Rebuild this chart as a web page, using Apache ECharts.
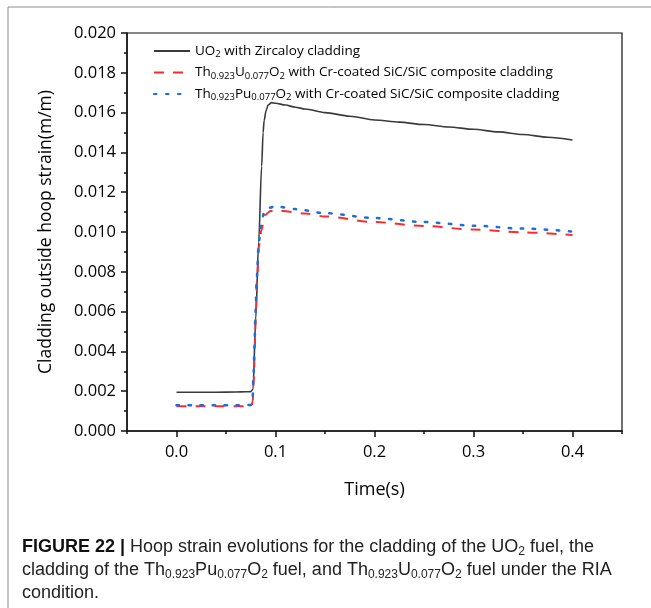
<!DOCTYPE html>
<html>
<head>
<meta charset="utf-8">
<script src="https://cdn.jsdelivr.net/npm/echarts@6/dist/echarts.min.js"></script>
<style>
  html, body { margin: 0; padding: 0; background: #ffffff; }
  #chart { width: 651px; height: 608px; }
</style>
</head>
<body>
<div id="chart"></div>
<script>
// Hoop strain of the cladding outer surface during an RIA pulse
const uo2Time = [0, 0.02, 0.04, 0.06, 0.07, 0.075, 0.0773, 0.080, 0.083, 0.086, 0.0875, 0.0885, 0.0905, 0.0925, 0.096, 0.10, 0.11, 0.12, 0.13, 0.15, 0.175, 0.2, 0.225, 0.25, 0.275, 0.3, 0.325, 0.35, 0.375, 0.4];
const uo2Strain = [0.00195, 0.00195, 0.00195, 0.00196, 0.00197, 0.00198, 0.0021, 0.0056, 0.0095, 0.0133, 0.0150, 0.0156, 0.0161, 0.01638, 0.0165, 0.01647, 0.01638, 0.01627, 0.01618, 0.01600, 0.01582, 0.01563, 0.01552, 0.01540, 0.01528, 0.01516, 0.01503, 0.0149, 0.01476, 0.01462];

const thuTime = [0, 0.02, 0.04, 0.06, 0.07, 0.0757, 0.077, 0.078, 0.0791, 0.0801, 0.0814, 0.0834, 0.0858, 0.0892, 0.095, 0.104, 0.13, 0.15, 0.2, 0.25, 0.3, 0.35, 0.4];
const thuStrain = [0.00125, 0.00125, 0.00125, 0.00125, 0.00125, 0.00126, 0.0015, 0.0025, 0.0042, 0.0059, 0.0076, 0.0093, 0.0101, 0.01085, 0.01105, 0.01107, 0.01093, 0.01078, 0.0105, 0.0103, 0.01012, 0.00998, 0.00985];

const thpuTime = [0, 0.02, 0.04, 0.06, 0.07, 0.0755, 0.0768, 0.0777, 0.0788, 0.0798, 0.0811, 0.0830, 0.0852, 0.0885, 0.0942, 0.098, 0.104, 0.12, 0.15, 0.2, 0.25, 0.3, 0.35, 0.4];
const thpuStrain = [0.0013, 0.0013, 0.0013, 0.0013, 0.0013, 0.00131, 0.0016, 0.0026, 0.0043, 0.0060, 0.0077, 0.0094, 0.0103, 0.0110, 0.01122, 0.01127, 0.01126, 0.01115, 0.01095, 0.0107, 0.0105, 0.01032, 0.01017, 0.01002];

const xMajorTicks = [0, 0.1, 0.2, 0.3, 0.4];
const xMinorTicks = [-0.05, 0.05, 0.15, 0.25, 0.35, 0.45];
const yMin = 0, yMax = 0.02, yStep = 0.002;

const seriesNames = [
  'UO2 with Zircaloy cladding',
  'Th0.923U0.077O2 with Cr-coated SiC/SiC composite cladding',
  'Th0.923Pu0.077O2 with Cr-coated SiC/SiC composite cladding'
];
const seriesColors = ['#3a3a3a', '#ff2b2b', '#1a6fe0'];
// Legend entries with subscripts, as rich-text strings
const legendRich = {
  'UO2 with Zircaloy cladding': '{n|UO}{s|2}{n| with Zircaloy cladding}',
  'Th0.923U0.077O2 with Cr-coated SiC/SiC composite cladding': '{n|Th}{s|0.923}{n|U}{s|0.077}{n|O}{s|2}{n| with Cr-coated SiC/SiC composite cladding}',
  'Th0.923Pu0.077O2 with Cr-coated SiC/SiC composite cladding': '{n|Th}{s|0.923}{n|Pu}{s|0.077}{n|O}{s|2}{n| with Cr-coated SiC/SiC composite cladding}'
};

const zip = (xs, ys) => xs.map((x, i) => [x, ys[i]]);
const FONT = '"Open Sans", sans-serif';
const CAP_FONT = '"Liberation Sans", Arial, sans-serif';

const chart = echarts.init(document.getElementById('chart'), null, { renderer: 'canvas' });

chart.setOption({
  backgroundColor: '#ffffff',
  animation: false,
  color: seriesColors,
  textStyle: { fontFamily: FONT, color: '#000' },
  grid: {
    left: 127, right: 29, top: 33, bottom: 177,
    show: true, borderColor: '#111', borderWidth: 1.2, containLabel: false
  },
  legend: {
    orient: 'vertical',
    left: 148, top: 39,
    itemWidth: 36, itemHeight: 12, itemGap: 6,
    itemStyle: { opacity: 0 },
    textStyle: {
      fontFamily: FONT, fontSize: 13.5, color: '#000',
      rich: {
        n: { fontFamily: FONT, fontSize: 13.5, color: '#000' },
        s: { fontFamily: FONT, fontSize: 9.5, color: '#000', padding: [7, 0, 0, 0] }
      }
    },
    formatter: name => legendRich[name],
    data: seriesNames
  },
  xAxis: [{
    type: 'value', min: -0.05, max: 0.45,
    name: 'Time(s)', nameLocation: 'middle', nameGap: 50,
    nameTextStyle: { fontFamily: FONT, fontSize: 18, color: '#000' },
    axisLine: { onZero: false, lineStyle: { color: '#111', width: 1.5 } },
    axisTick: { customValues: xMajorTicks, length: 6, inside: false, lineStyle: { color: '#111', width: 1.5 } },
    axisLabel: { customValues: xMajorTicks, fontFamily: FONT, fontSize: 16.5, color: '#000', margin: 13,
      formatter: v => v.toFixed(1) },
    splitLine: { show: false }
  }, {
    type: 'value', min: -0.05, max: 0.45, position: 'bottom',
    axisLine: { show: false, onZero: false },
    axisTick: { customValues: xMinorTicks, length: 3, lineStyle: { color: '#111', width: 1.5 } },
    axisLabel: { show: false },
    splitLine: { show: false }
  }],
  yAxis: {
    type: 'value', min: yMin, max: yMax, interval: yStep,
    name: 'Cladding outside hoop strain(m/m)', nameLocation: 'middle', nameGap: 72,
    nameTextStyle: { fontFamily: FONT, fontSize: 17.5, color: '#000' },
    axisLine: { show: true, onZero: false, lineStyle: { color: '#111', width: 1.5 } },
    axisTick: { show: true, length: 6, lineStyle: { color: '#111', width: 1.5 } },
    minorTick: { show: true, splitNumber: 2, length: 3, lineStyle: { color: '#111', width: 1.5 } },
    axisLabel: { fontFamily: FONT, fontSize: 16.5, color: '#000', margin: 11, formatter: v => v.toFixed(3) },
    splitLine: { show: false }
  },
  series: [{
    name: seriesNames[0], type: 'line', xAxisIndex: 0,
    data: zip(uo2Time, uo2Strain), showSymbol: false, symbol: 'none',
    smooth: 0.3, smoothMonotone: 'x',
    itemStyle: { color: seriesColors[0] },
    lineStyle: { color: seriesColors[0], width: 1.6, type: 'solid' }, z: 3
  }, {
    name: seriesNames[1], type: 'line', xAxisIndex: 0,
    data: zip(thuTime, thuStrain), showSymbol: false, symbol: 'none',
    smooth: 0.3, smoothMonotone: 'x',
    itemStyle: { color: seriesColors[1] },
    lineStyle: { color: seriesColors[1], width: 2, type: [10, 9] }, z: 4
  }, {
    name: seriesNames[2], type: 'line', xAxisIndex: 0,
    data: zip(thpuTime, thpuStrain), showSymbol: false, symbol: 'none',
    smooth: 0.3, smoothMonotone: 'x',
    itemStyle: { color: seriesColors[2] },
    lineStyle: { color: seriesColors[2], width: 2.5, type: [2.5, 9.5], cap: 'round' }, z: 5
  }],
  graphic: [
    // Panel frame: left and top rules
    { type: 'line', shape: { x1: 8, y1: 7, x2: 651, y2: 7 }, style: { stroke: '#8a8a8a', lineWidth: 1 } },
    { type: 'line', shape: { x1: 8, y1: 7, x2: 8, y2: 608 }, style: { stroke: '#8a8a8a', lineWidth: 1 } },
    // Caption
    {
      type: 'text', left: 22, top: 537,
      style: {
        text: '{b|FIGURE 22 |}{t| Hoop strain evolutions for the cladding of the UO}{ts|2}{t| fuel, the}\n' +
              '{t|cladding of the Th}{ts|0.923}{t|Pu}{ts|0.077}{t|O}{ts|2}{t| fuel, and Th}{ts|0.923}{t|U}{ts|0.077}{t|O}{ts|2}{t| fuel under the RIA}\n' +
              '{t|condition.}',
        fill: '#111',
        rich: {
          b: { fontFamily: CAP_FONT, fontWeight: 'bold', fontSize: 18, lineHeight: 23, fill: '#111' },
          t: { fontFamily: CAP_FONT, fontSize: 18, lineHeight: 23, fill: '#222' },
          ts: { fontFamily: CAP_FONT, fontSize: 12, lineHeight: 23, fill: '#222', padding: [9, 0, 0, 0] }
        }
      }
    }
  ]
});
</script>
</body>
</html>
